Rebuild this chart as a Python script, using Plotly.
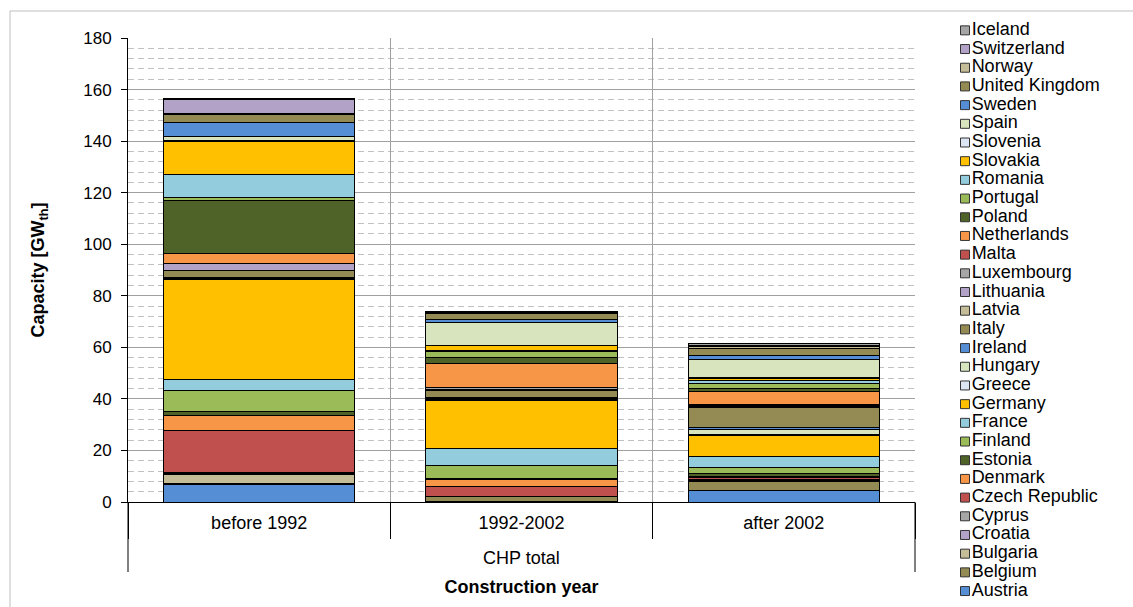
import plotly.graph_objects as go

# Countries in stacking order (bottom of each bar first)
countries = [
    "Austria", "Belgium", "Bulgaria", "Croatia", "Cyprus", "Czech Republic",
    "Denmark", "Estonia", "Finland", "France", "Germany", "Greece", "Hungary",
    "Ireland", "Italy", "Latvia", "Lithuania", "Luxembourg", "Malta",
    "Netherlands", "Poland", "Portugal", "Romania", "Slovakia", "Slovenia",
    "Spain", "Sweden", "United Kingdom", "Norway", "Switzerland", "Iceland",
]

periods = ["before 1992", "1992-2002", "after 2002"]
group_label = "CHP total"

# Installed CHP heat capacity [GW_th] per country, one list per construction period
before_1992 = [6.6, 0.4, 3.7, 0.5, 0.1, 16.4, 5.8, 1.6, 8.1, 4.3, 38.8, 0.3, 0.2,
               0.1, 2.9, 0.1, 2.5, 0.1, 0.1, 3.7, 20.6, 1.3, 8.8, 12.8, 0.3,
               1.5, 5.8, 3.0, 0.3, 5.4, 0.5]
from_1992_to_2002 = [0.1, 1.9, 0.1, 0.05, 0.05, 4.0, 2.7, 0.1, 5.1, 6.5, 18.7, 0.4,
                     0.4, 0.4, 2.7, 0.3, 0.2, 0.8, 0.1, 9.2, 2.3, 2.2, 0.3, 2.0,
                     0.2, 8.7, 1.3, 2.3, 0.3, 0.2, 0.2]
after_2002 = [4.4, 3.5, 0.4, 0.3, 0.2, 0.7, 0.5, 0.9, 2.6, 4.3, 8.1, 0.4, 2.0,
              0.5, 7.9, 0.3, 0.3, 0.3, 0.4, 4.7, 1.3, 1.8, 1.3, 0.9, 0.4,
              6.7, 1.9, 2.6, 0.6, 0.6, 0.5]

# Office-style palette, cycled over the countries
palette = ["#558ED5", "#948A54", "#C4BD97", "#B3A2C7", "#A6A6A6", "#C0504D",
           "#F79646", "#4F6228", "#9BBB59", "#93CDDD", "#FFC000", "#DCE6F2",
           "#D7E4BD"]
colors = [palette[i % len(palette)] for i in range(len(countries))]

FONT = "Liberation Sans, Arial, sans-serif"
W, H = 1133, 607

# Pixel frame of the plotting area
PLOT_L, PLOT_R, PLOT_T, PLOT_B = 128, 915, 38, 502


def py(pix):
    """Convert a pixel row (from the top) to a paper fraction."""
    return (H - pix) / H


fig = go.Figure()

for i, name in enumerate(countries):
    fig.add_bar(
        x=periods,
        y=[before_1992[i], from_1992_to_2002[i], after_2002[i]],
        name=name,
        marker=dict(color=colors[i], line=dict(color="#000000", width=1)),
        showlegend=False,
        xaxis="x", yaxis="y",
    )

# Compact key on its own hidden axes (top entry = last stacked series)
fig.add_trace(go.Scatter(
    x=[0] * len(countries),
    y=countries,
    mode="markers+text",
    text=countries,
    textposition="middle right",
    textfont=dict(family=FONT, size=18, color="#000000"),
    marker=dict(symbol="square", size=9, color=colors,
                line=dict(color="#333333", width=1)),
    xaxis="x2", yaxis="y2",
    showlegend=False, hoverinfo="skip", cliponaxis=False,
))

fig.update_layout(
    template="none",
    width=W, height=H,
    margin=dict(l=0, r=0, t=0, b=0, pad=0),
    paper_bgcolor="white", plot_bgcolor="white",
    barmode="stack", bargap=0.27,
    font=dict(family=FONT, color="#000000"),
    xaxis=dict(
        domain=[PLOT_L / W, PLOT_R / W], anchor="y", automargin=False,
        tickson="boundaries", ticks="outside", ticklen=36, tickcolor="#000000",
        tickwidth=1, ticklabelstandoff=4,
        showgrid=True, gridcolor="#A0A0A0", gridwidth=1,
        showline=True, linecolor="#000000", linewidth=1,
        tickfont=dict(family=FONT, size=18, color="#000000"),
        title=dict(text="<b>Construction year</b>", standoff=48,
                   font=dict(family=FONT, size=18, color="#000000")),
    ),
    yaxis=dict(
        domain=[py(PLOT_B), py(PLOT_T)], anchor="x", automargin=False,
        range=[0, 180], tick0=0, dtick=20,
        ticks="outside", ticklen=6, tickcolor="#000000", tickwidth=1,
        ticklabelstandoff=6,
        showline=True, linecolor="#000000", linewidth=1,
        showgrid=True, gridcolor="#A0A0A0", gridwidth=1,
        zeroline=False,
        minor=dict(dtick=4, showgrid=True, gridcolor="#C0C0C0",
                   griddash="6px,4px", ticks=""),
        tickfont=dict(family=FONT, size=17, color="#000000"),
        title=dict(text="<b>Capacity [GW<sub>th</sub>]</b>", standoff=33,
                   font=dict(family=FONT, size=18, color="#000000")),
    ),
    xaxis2=dict(domain=[950 / W, 1.0], anchor="y2", range=[-15, 168],
                visible=False, fixedrange=True, automargin=False),
    yaxis2=dict(domain=[py(600.4), py(21.0)], anchor="x2",
                type="category", categoryorder="array", categoryarray=countries,
                range=[-0.5, len(countries) - 0.5], visible=False,
                fixedrange=True, automargin=False),
    annotations=[dict(text=group_label, xref="x domain", yref="paper",
                      x=0.5, y=py(558), xanchor="center", yanchor="middle",
                      showarrow=False,
                      font=dict(family=FONT, size=18, color="#000000"))],
    shapes=[
        # outer group dividers below the category axis
        dict(type="line", xref="x domain", yref="paper", x0=0, x1=0,
             y0=py(PLOT_B), y1=py(572), line=dict(color="#000000", width=1)),
        dict(type="line", xref="x domain", yref="paper", x0=1, x1=1,
             y0=py(PLOT_B), y1=py(572), line=dict(color="#000000", width=1)),
        # chart frame
        dict(type="rect", xref="paper", yref="paper",
             x0=10 / W, x1=1.02, y0=-0.02, y1=py(11),
             line=dict(color="#BFBFBF", width=1), layer="below"),
    ],
)

fig.write_html("out.html")
